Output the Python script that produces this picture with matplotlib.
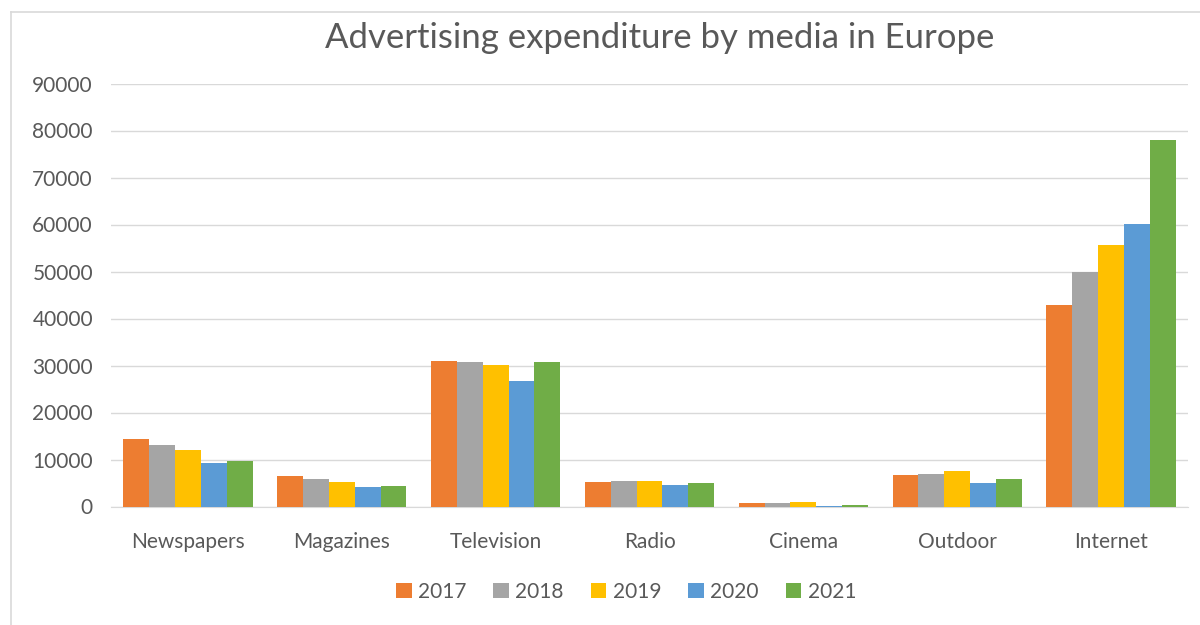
import matplotlib
matplotlib.use("Agg")
import matplotlib.pyplot as plt
import numpy as np
from matplotlib.lines import Line2D

categories = ["Newspapers", "Magazines", "Television", "Radio", "Cinema", "Outdoor", "Internet"]
years = ["2017", "2018", "2019", "2020", "2021"]
v2017 = [14300, 6400, 30900, 5300, 800, 6800, 42900]
v2018 = [13100, 5800, 30700, 5450, 700, 7000, 50000]
v2019 = [12100, 5300, 30100, 5450, 900, 7500, 55600]
v2020 = [9300, 4200, 26800, 4600, 150, 5000, 60100]
v2021 = [9700, 4350, 30800, 5000, 400, 5900, 78000]
series = [v2017, v2018, v2019, v2020, v2021]
colors = ["#ED7D31", "#A5A5A5", "#FFC000", "#5B9BD5", "#70AD47"]
yticks = [0, 10000, 20000, 30000, 40000, 50000, 60000, 70000, 80000, 90000]

plt.rcParams['font.family'] = ['Lato', 'DejaVu Sans']
txt = "#595959"

fig = plt.figure(figsize=(12, 6.25), dpi=100)
# chart frame (left and top edges visible)
fig.lines.append(Line2D([11/1200, 11/1200], [0, 1 - 12/625], transform=fig.transFigure,
                        color="#D9D9D9", linewidth=1.2))
fig.lines.append(Line2D([11/1200, 1], [1 - 12/625, 1 - 12/625], transform=fig.transFigure,
                        color="#D9D9D9", linewidth=1.2))

ax = fig.add_axes([111/1200, 118.5/625, 1077/1200, 423/625])

x = np.arange(len(categories))
w = 0.168
for i, (vals, c, yr) in enumerate(zip(series, colors, years)):
    ax.bar(x + (i - 2) * w, vals, width=w, color=c, label=yr, zorder=3)

ax.set_xlim(-0.5, len(categories) - 0.5)
ax.set_ylim(0, 90000)
ax.set_yticks(yticks)
ax.set_yticklabels([str(t) for t in yticks])
ax.set_xticks(x)
ax.set_xticklabels(categories)
ax.tick_params(axis='both', length=0, labelsize=15, colors=txt)
ax.tick_params(axis='x', pad=18)
ax.tick_params(axis='y', pad=13)
ax.grid(axis='y', color="#D9D9D9", linewidth=1, zorder=0)
for s in ["top", "right", "left"]:
    ax.spines[s].set_visible(False)
ax.spines["bottom"].set_color("#D9D9D9")

fig.text(660/1200, 1 - 38/625, "Advertising expenditure by media in Europe", ha="center", va="center",
         fontsize=25, color=txt)

leg = fig.legend(loc="center", bbox_to_anchor=(626/1200, 1 - 592/625), ncol=5, frameon=False,
                 fontsize=15, handlelength=0.75, handleheight=0.75, handletextpad=0.3, columnspacing=1.3)
for t in leg.get_texts():
    t.set_color(txt)

fig.savefig("out.png", dpi=100)
